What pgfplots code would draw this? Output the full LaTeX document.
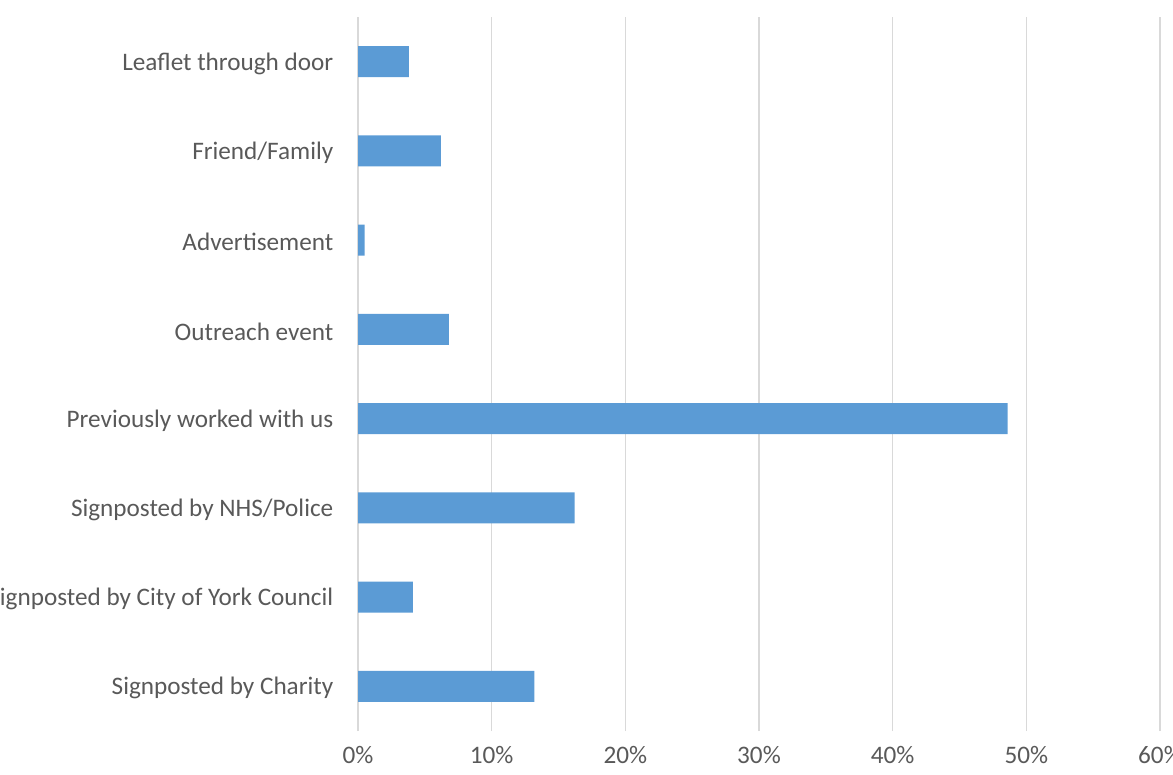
\documentclass[border=0pt]{standalone}
\usepackage{fontspec}
\setmainfont{Carlito}
\usepackage{pgfplots}
\pgfplotsset{compat=1.18}
\definecolor{txt}{HTML}{595959}
\definecolor{gridc}{HTML}{D9D9D9}
\definecolor{barc}{HTML}{5B9BD5}
\begin{document}
\begin{tikzpicture}
\clip (0,0) rectangle (879.75pt,580.5pt);
\path[use as bounding box] (0,0) rectangle (879.75pt,580.5pt);
\begin{axis}[
  at={(268.5pt,32.25pt)}, anchor=south west,
  scale only axis,
  width=601.5pt, height=535.5pt,
  xbar, bar width=23.25pt,
  xmin=0, xmax=60, ymin=-0.5, ymax=7.5,
  xtick={0,10,...,60},
  xticklabel={\pgfmathprintnumber{\tick}\%},
  /pgf/number format/assume math mode=true,
  ytick={0,...,7},
  yticklabels={Signposted by Charity,Signposted by City of York Council,Signposted by NHS/Police,Previously worked with us,Outreach event,Advertisement,Friend/Family,Leaflet through door},
  axis line style={draw=none},
  major tick length=0pt,
  xmajorgrids, ymajorgrids=false,
  grid style={gridc, line width=0.9pt},
  tick label style={font=\fontsize{18.9}{20}\selectfont, text=txt},
  xticklabel style={yshift=-8pt},
  yticklabel style={xshift=-15pt, yshift=-1.5pt},
  clip=false,
]
\addplot[fill=barc, draw=none] coordinates {
(13.2,0) (4.1,1) (16.2,2) (48.6,3) (6.8,4) (0.5,5) (6.2,6) (3.8,7)
};
\end{axis}
\end{tikzpicture}
\end{document}
